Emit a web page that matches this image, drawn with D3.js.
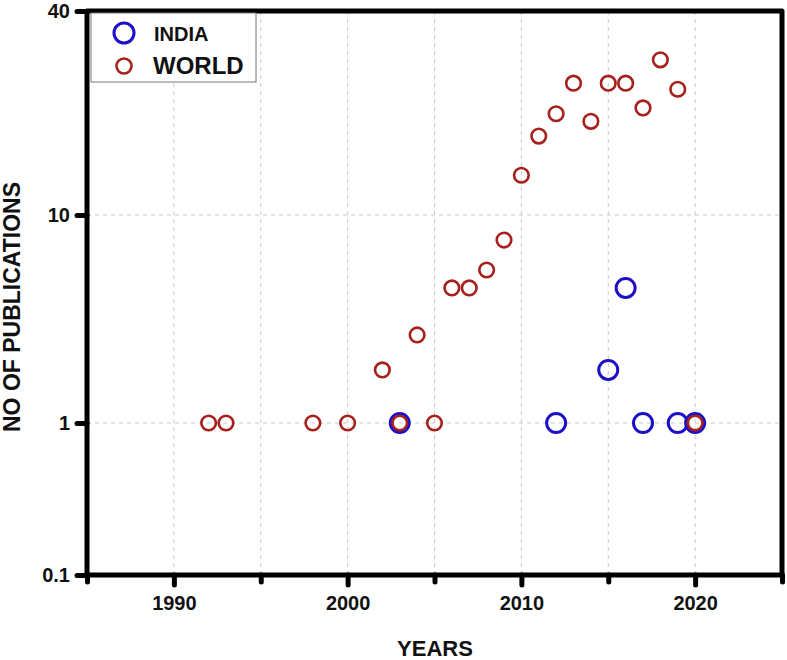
<!DOCTYPE html>
<html>
<head>
<meta charset="utf-8">
<script src="https://cdn.jsdelivr.net/npm/d3@7"></script>
<style>
  body { margin: 0; background: #fff; }
  svg text { font-family: "Liberation Sans", Arial, sans-serif; font-weight: bold; fill: #111; }
  .tick line { stroke: #000; stroke-width: 5; stroke-linecap: round; }
  .grid line { stroke: #c8c8c8; stroke-width: 1; stroke-dasharray: 4 4; }
</style>
</head>
<body>
<div class="chart"><svg></svg></div>
<script>
// publications per year
const worldYears = [1992, 1993, 1998, 2000, 2002, 2003, 2004, 2005, 2006, 2007, 2008, 2009, 2010, 2011, 2012, 2013, 2014, 2015, 2016, 2017, 2018, 2019, 2020];
const worldValues = [1, 1, 1, 1, 1.8, 1, 2.65, 1, 4.46, 4.46, 5.44, 7.58, 13.1, 17.1, 19.9, 24.5, 18.9, 24.5, 24.5, 20.7, 28.7, 23.5, 1];
const indiaYears = [2003, 2012, 2015, 2016, 2017, 2019, 2020];
const indiaValues = [1, 1, 1.8, 4.46, 1, 1, 1];

const xMajorTicks = [1990, 2000, 2010, 2020];
const xMinorTicks = [1985, 1995, 2005, 2015, 2025];
const xGridTicks = [1990, 1995, 2000, 2005, 2010, 2015, 2020];
const yTicks = [0.1, 1, 10, 40];
const yTickLabels = ['0.1', '1', '10', '40'];
const yGridTicks = [1, 10];

const W = 787;
const H = 660;
const frame = { left: 87, right: 782, top: 11, bottom: 575 };
const red = '#a6201c';
const blue = '#1c0fc6';

const svg = d3.select('svg').attr('width', W).attr('height', H);

const x = d3.scaleLinear().domain([1985, 2025]).range([frame.left, frame.right]);
// the figure's log axis is not evenly spaced between its labelled ticks
const y = d3.scaleLog().domain(yTicks).range([575, 423, 215, 11]);

// grid
const grid = svg.append('g').attr('class', 'grid');
grid.selectAll('.vx')
  .data(xGridTicks)
  .join('line')
  .attr('x1', d => x(d)).attr('x2', d => x(d))
  .attr('y1', frame.top).attr('y2', frame.bottom);
grid.selectAll('.hy')
  .data(yGridTicks)
  .join('line')
  .attr('class', 'hy')
  .attr('x1', frame.left).attr('x2', frame.right)
  .attr('y1', d => y(d)).attr('y2', d => y(d));

// axes (ticks + labels only, frame drawn below)
const axisY = d3.axisLeft(y)
  .tickValues(yTicks)
  .tickFormat((d, i) => yTickLabels[i])
  .tickSize(10)
  .tickPadding(7);
svg.append('g')
  .attr('transform', `translate(${frame.left},0)`)
  .call(axisY)
  .call(g => g.select('.domain').remove())
  .call(g => g.selectAll('text').style('font-size', '20px').attr('fill', '#111'));

const axisXMinor = d3.axisBottom(x).tickValues(xMinorTicks).tickFormat('').tickSize(7);
svg.append('g')
  .attr('transform', `translate(0,${frame.bottom})`)
  .call(axisXMinor)
  .call(g => g.select('.domain').remove());

const axisX = d3.axisBottom(x)
  .tickValues(xMajorTicks)
  .tickFormat(d3.format('d'))
  .tickSize(10)
  .tickPadding(11);
svg.append('g')
  .attr('transform', `translate(0,${frame.bottom})`)
  .call(axisX)
  .call(g => g.select('.domain').remove())
  .call(g => g.selectAll('text').style('font-size', '20px').attr('fill', '#111'));

// frame
svg.append('path')
  .attr('d', `M${frame.left},${frame.top}H${frame.right}V${frame.bottom}H${frame.left}Z`)
  .attr('fill', 'none')
  .attr('stroke', '#000')
  .attr('stroke-width', 5)
  .attr('stroke-linejoin', 'round');

// points
const pts = svg.append('g');
pts.selectAll('.india')
  .data(indiaYears)
  .join('circle')
  .attr('class', 'india')
  .attr('cx', d => x(d))
  .attr('cy', (d, i) => y(indiaValues[i]))
  .attr('r', 9.5)
  .attr('fill', 'none')
  .attr('stroke', blue)
  .attr('stroke-width', 3);

pts.selectAll('.world')
  .data(worldYears)
  .join('circle')
  .attr('class', 'world')
  .attr('cx', d => x(d))
  .attr('cy', (d, i) => y(worldValues[i]))
  .attr('r', 7.3)
  .attr('fill', 'none')
  .attr('stroke', red)
  .attr('stroke-width', 2.6);

// legend
const legend = svg.append('g');
legend.append('rect')
  .attr('x', 91).attr('y', 13)
  .attr('width', 165).attr('height', 69)
  .attr('fill', '#fff')
  .attr('stroke', '#777')
  .attr('stroke-width', 1);
legend.append('circle')
  .attr('cx', 124).attr('cy', 33).attr('r', 10)
  .attr('fill', 'none').attr('stroke', blue).attr('stroke-width', 3);
legend.append('text')
  .attr('x', 154).attr('y', 41)
  .style('font-size', '20px')
  .text('INDIA');
legend.append('circle')
  .attr('cx', 124).attr('cy', 66).attr('r', 7.5)
  .attr('fill', 'none').attr('stroke', red).attr('stroke-width', 2.6);
legend.append('text')
  .attr('x', 153).attr('y', 74)
  .style('font-size', '24px')
  .text('WORLD');

// axis titles
svg.append('text')
  .attr('transform', 'translate(20,307) rotate(-90)')
  .attr('text-anchor', 'middle')
  .style('font-size', '23px')
  .text('NO OF PUBLICATIONS');

svg.append('text')
  .attr('x', 435).attr('y', 656)
  .attr('text-anchor', 'middle')
  .style('font-size', '22px')
  .text('YEARS');
</script>
</body>
</html>
